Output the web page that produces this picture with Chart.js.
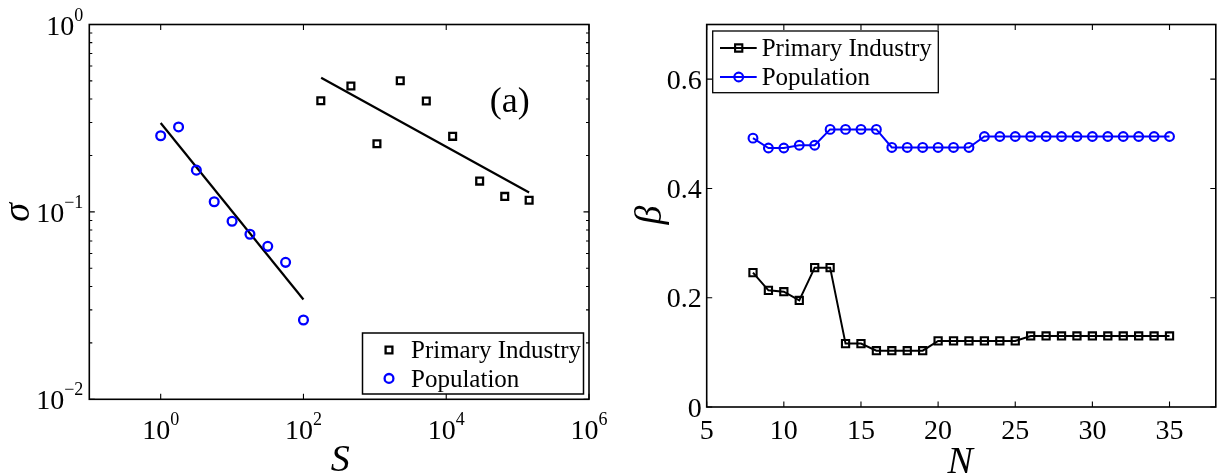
<!DOCTYPE html>
<html><head><meta charset="utf-8">
<script src="https://cdn.jsdelivr.net/npm/chart.js@4.4.1/dist/chart.umd.min.js"></script>
<style>
html,body{margin:0;padding:0;background:#fff;width:1223px;height:475px;overflow:hidden}
canvas{position:absolute;top:0}
#c1{left:0}
#c2{left:610px}
</style></head><body>
<canvas id="c1" width="640" height="475" style="width:640px;height:475px"></canvas>
<canvas id="c2" width="613" height="475" style="width:613px;height:475px"></canvas>
<script>
// ---------- Panel (a): sigma vs S (log-log) ----------
const indS = [175, 462, 1070, 2270, 5260, 12300, 29400, 66000, 145000];
const indSigma = [0.392, 0.470, 0.231, 0.501, 0.391, 0.253, 0.146, 0.121, 0.1155];
const popS = [1, 1.78, 3.16, 5.62, 10, 17.8, 31.6, 56.2, 100];
const popSigma = [0.255, 0.284, 0.167, 0.1133, 0.0891, 0.0760, 0.0655, 0.0538, 0.0265];
const indFitS = [177, 145000];
const indFitSigma = [0.52, 0.127];
const popFitS = [1, 100];
const popFitSigma = [0.298, 0.0341];
const leftXTicks = [1, 100, 10000, 1000000];
const leftXExp = ['0', '2', '4', '6'];
const leftYTicks = [0.01, 0.1, 1];
const leftYExp = ['\u22122', '\u22121', '0'];
const leftYMinor = [0.02,0.03,0.04,0.05,0.06,0.07,0.08,0.09,0.2,0.3,0.4,0.5,0.6,0.7,0.8,0.9];

// ---------- Panel (b): beta vs N ----------
const nValues = [8,9,10,11,12,13,14,15,16,17,18,19,20,21,22,23,24,25,26,27,28,29,30,31,32,33,34,35];
const indBeta = [0.246,0.2135,0.211,0.195,0.255,0.255,0.116,0.116,0.103,0.103,0.103,0.103,0.121,0.121,0.121,0.121,0.121,0.121,0.130,0.130,0.130,0.130,0.130,0.130,0.130,0.130,0.130,0.130];
const popBeta = [0.492,0.474,0.474,0.479,0.479,0.508,0.508,0.508,0.508,0.475,0.475,0.475,0.475,0.475,0.475,0.495,0.495,0.495,0.495,0.495,0.495,0.495,0.495,0.495,0.495,0.495,0.495,0.495];
const rightXTicks = [5,10,15,20,25,30,35];
const rightXLabels = ['5','10','15','20','25','30','35'];
const rightYTicks = [0,0.2,0.4,0.6];
const rightYLabels = ['0','0.2','0.4','0.6'];

const SERIF = '"Liberation Serif","Times New Roman",Times,serif';
const fnt = (sz, it) => (it ? 'italic ' : '') + sz + 'px ' + SERIF;
const BLUE = '#0000ff';

function pts(xs, ys){ return xs.map((x,i)=>({x:x, y:ys[i]})); }

function drawMarker(ctx, style, x, y, r, color, bw){
  ctx.save();
  ctx.strokeStyle = color; ctx.lineWidth = bw;
  ctx.beginPath();
  if (style === 'rect'){ const s = Math.SQRT1_2*r; ctx.rect(x-s, y-s, 2*s, 2*s); }
  else { ctx.arc(x, y, r, 0, Math.PI*2); }
  ctx.stroke();
  ctx.restore();
}

const framePlugin = {
  id: 'frame',
  afterDraw(chart, args, o){
    const ctx = chart.ctx, a = chart.chartArea;
    const xs = chart.scales.x, ys = chart.scales.y;
    ctx.save();
    ctx.strokeStyle = '#000'; ctx.fillStyle = '#000';
    ctx.lineWidth = 1.6;
    ctx.strokeRect(a.left, a.top, a.right - a.left, a.bottom - a.top);
    ctx.lineWidth = 1.1;
    ctx.beginPath();
    o.xTicks.forEach(v => { const x = xs.getPixelForValue(v);
      ctx.moveTo(x, a.bottom); ctx.lineTo(x, a.bottom - o.tick);
      ctx.moveTo(x, a.top); ctx.lineTo(x, a.top + o.tick); });
    o.yTicks.forEach(v => { const y = ys.getPixelForValue(v);
      ctx.moveTo(a.left, y); ctx.lineTo(a.left + o.tick, y);
      ctx.moveTo(a.right, y); ctx.lineTo(a.right - o.tick, y); });
    (o.yMinor || []).forEach(v => { const y = ys.getPixelForValue(v);
      ctx.moveTo(a.left, y); ctx.lineTo(a.left + o.minor, y);
      ctx.moveTo(a.right, y); ctx.lineTo(a.right - o.minor, y); });
    ctx.stroke();

    // tick labels
    ctx.textBaseline = 'alphabetic';
    if (o.xExp){
      o.xTicks.forEach((v,i) => {
        const x = xs.getPixelForValue(v);
        ctx.font = fnt(o.tickSize); const w1 = ctx.measureText('10').width;
        ctx.font = fnt(o.supSize); const w2 = ctx.measureText(o.xExp[i]).width;
        const s = x - (w1 + w2)/2;
        ctx.textAlign = 'left';
        ctx.font = fnt(o.tickSize); ctx.fillText('10', s, o.xLabelBase);
        ctx.font = fnt(o.supSize); ctx.fillText(o.xExp[i], s + w1, o.xLabelBase - o.supRaise);
      });
      o.yTicks.forEach((v,i) => {
        const y = ys.getPixelForValue(v);
        ctx.font = fnt(o.tickSize); const w1 = ctx.measureText('10').width;
        ctx.font = fnt(o.supSize); const w2 = ctx.measureText(o.yExp[i]).width;
        const e = a.left - o.yLabelGap;
        ctx.textAlign = 'left';
        ctx.font = fnt(o.tickSize); ctx.fillText('10', e - w2 - w1, y + o.yLabelOff);
        ctx.font = fnt(o.supSize); ctx.fillText(o.yExp[i], e - w2, y + o.yLabelOff - o.supRaise);
      });
    } else {
      ctx.font = fnt(o.tickSize);
      ctx.textAlign = 'center';
      o.xTicks.forEach((v,i) => ctx.fillText(o.xLabels[i], xs.getPixelForValue(v), o.xLabelBase));
      ctx.textAlign = 'right';
      o.yTicks.forEach((v,i) => ctx.fillText(o.yLabels[i], a.left - o.yLabelGap, ys.getPixelForValue(v) + o.yLabelOff));
    }

    // axis titles
    ctx.font = fnt(o.titleSize, true);
    ctx.textAlign = 'center';
    ctx.fillText(o.xTitle, (a.left + a.right)/2 + o.xTitleDx, o.xTitleBase);
    ctx.save();
    ctx.translate(o.yTitleX, o.yTitleY);
    ctx.rotate(-Math.PI/2);
    ctx.fillText(o.yTitle, 0, o.titleSize*0.23);
    ctx.restore();

    // annotation
    if (o.annot){
      ctx.font = fnt(o.annot.size);
      ctx.textAlign = 'center';
      ctx.fillText(o.annot.text, o.annot.x, o.annot.y);
    }

    // legend
    const L = o.legend;
    ctx.fillStyle = '#fff';
    ctx.fillRect(L.box[0], L.box[1], L.box[2]-L.box[0], L.box[3]-L.box[1]);
    ctx.lineWidth = L.lw; ctx.strokeStyle = '#000';
    ctx.strokeRect(L.box[0], L.box[1], L.box[2]-L.box[0], L.box[3]-L.box[1]);
    L.rows.forEach(r => {
      const ds = chart.data.datasets[r.ds];
      const col = ds.borderColor;
      if (r.line){
        ctx.save(); ctx.strokeStyle = col; ctx.lineWidth = ds.borderWidth;
        ctx.beginPath(); ctx.moveTo(r.line[0], r.cy); ctx.lineTo(r.line[1], r.cy); ctx.stroke(); ctx.restore();
      }
      drawMarker(ctx, ds.pointStyle, r.mx, r.cy, ds.pointRadius, col, ds.pointBorderWidth || ds.borderWidth);
      ctx.fillStyle = '#000';
      ctx.font = fnt(L.size);
      ctx.textAlign = 'left';
      ctx.fillText(ds.label, L.textX, r.cy + L.size*0.33);
    });
    ctx.restore();
  }
};

function baseScale(type, min, max, fitProp, fitVal){
  return {
    type: type, min: min, max: max,
    grid: { display: false }, border: { display: false },
    ticks: { display: false },
    afterFit(s){ s[fitProp] = fitVal; }
  };
}

new Chart(document.getElementById('c1'), {
  type: 'scatter',
  data: { datasets: [
    { label: 'Primary Industry', data: pts(indS, indSigma), showLine: false,
      pointStyle: 'rect', pointRadius: 4.8, borderColor: '#000', borderWidth: 2.3,
      backgroundColor: 'rgba(0,0,0,0)' },
    { label: 'Population', data: pts(popS, popSigma), showLine: false,
      pointStyle: 'circle', pointRadius: 4.4, borderColor: BLUE, borderWidth: 2.3,
      backgroundColor: 'rgba(0,0,0,0)' },
    { label: 'fit1', data: pts(indFitS, indFitSigma), showLine: true, pointRadius: 0,
      borderColor: '#000', borderWidth: 2.2 },
    { label: 'fit2', data: pts(popFitS, popFitSigma), showLine: true, pointRadius: 0,
      borderColor: '#000', borderWidth: 2.2 }
  ]},
  options: {
    responsive: false, animation: false, events: [],
    layout: { padding: { left: 0, top: 24.5, right: 51, bottom: 0 } },
    scales: {
      x: baseScale('logarithmic', 0.1, 1000000, 'height', 75.7),
      y: baseScale('logarithmic', 0.01, 1, 'width', 89.3)
    },
    plugins: {
      legend: { display: false }, tooltip: { enabled: false },
      frame: {
        tick: 5.5, minor: 3,
        xTicks: leftXTicks, xExp: leftXExp, yTicks: leftYTicks, yExp: leftYExp, yMinor: leftYMinor,
        tickSize: 28, supSize: 18, supRaise: 14, xLabelBase: 439, yLabelGap: 6, yLabelOff: 10,
        titleSize: 38, xTitle: 'S', xTitleDx: 1, xTitleBase: 470.5, yTitle: '\u03c3', yTitleX: 20.5, yTitleY: 212.5,
        annot: { text: '(a)', x: 509.7, y: 112, size: 36 },
        legend: { box: [362.5, 333, 583.5, 394], lw: 1.5, size: 25, textX: 411,
          rows: [ { ds: 0, mx: 389, cy: 350 }, { ds: 1, mx: 389, cy: 378.4 } ] }
      }
    }
  },
  plugins: [framePlugin]
});

new Chart(document.getElementById('c2'), {
  type: 'scatter',
  data: { datasets: [
    { label: 'Primary Industry', data: pts(nValues, indBeta), showLine: true, tension: 0,
      pointStyle: 'rect', pointRadius: 5.1, borderColor: '#000', borderWidth: 2, pointBorderWidth: 2.1,
      backgroundColor: 'rgba(0,0,0,0)' },
    { label: 'Population', data: pts(nValues, popBeta), showLine: true, tension: 0,
      pointStyle: 'circle', pointRadius: 4.4, borderColor: BLUE, borderWidth: 2, pointBorderWidth: 2.1,
      backgroundColor: 'rgba(0,0,0,0)' }
  ]},
  options: {
    responsive: false, animation: false, events: [],
    layout: { padding: { left: 0, top: 24.5, right: 6.3, bottom: 0 } },
    scales: {
      x: baseScale('linear', 5, 38, 'height', 68),
      y: baseScale('linear', 0, 0.7, 'width', 96.7)
    },
    plugins: {
      legend: { display: false }, tooltip: { enabled: false },
      frame: {
        tick: 5.5,
        xTicks: rightXTicks, xLabels: rightXLabels, yTicks: rightYTicks, yLabels: rightYLabels,
        tickSize: 28, xLabelBase: 439, yLabelGap: 5, yLabelOff: 9.5,
        titleSize: 38, xTitle: 'N', xTitleDx: -1, xTitleBase: 472.5, yTitle: '\u03b2', yTitleX: 42, yTitleY: 215,
        legend: { box: [102.7, 31, 328.3, 92.7], lw: 1.3, size: 25, textX: 151.7,
          rows: [ { ds: 0, mx: 128.7, cy: 48, line: [110, 146.7] }, { ds: 1, mx: 128.7, cy: 77, line: [110, 146.7] } ] }
      }
    }
  },
  plugins: [framePlugin]
});
</script>
</body></html>
